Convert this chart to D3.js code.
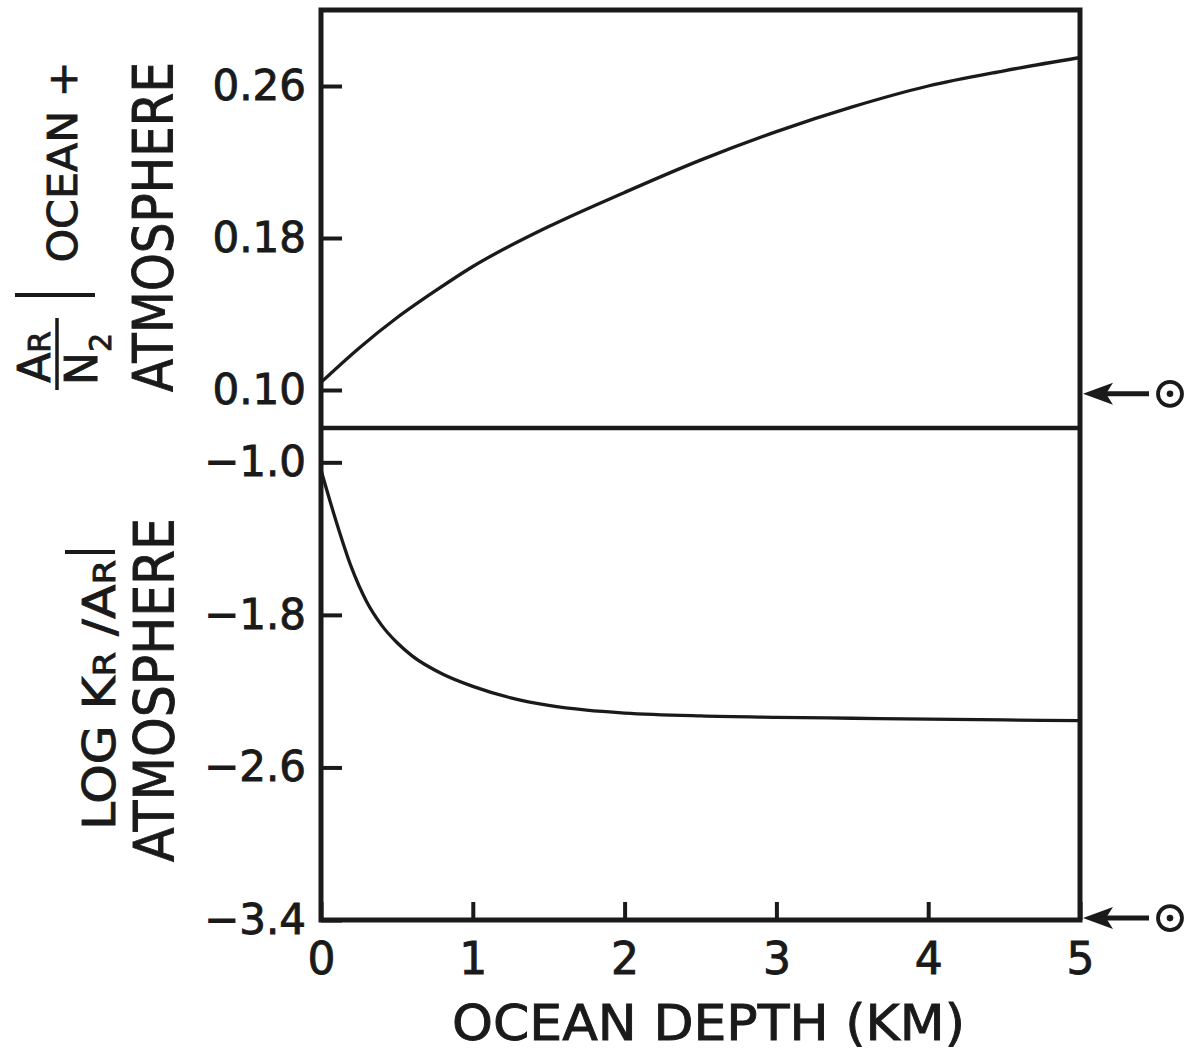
<!DOCTYPE html>
<html>
<head>
<meta charset="utf-8">
<script src="https://cdn.jsdelivr.net/npm/d3@7"></script>
<style>
  body { margin: 0; background: #fff; }
  svg { display: block; }
  text { font-family: "DejaVu Sans", sans-serif; fill: #1a1a1a; stroke: #1a1a1a; stroke-width: 0.9px; }
</style>
</head>
<body>
<svg width="1192" height="1051"></svg>
<script>
// values
const depthTicks = [0, 1, 2, 3, 4, 5];
const ratioTicks = [0.10, 0.18, 0.26];
const logTicks = [-1.0, -1.8, -2.6, -3.4];

// top panel: Ar/N2 in ocean + atmosphere vs ocean depth
const depthTop = [0, 0.25, 0.5, 0.75, 1, 1.5, 2, 2.5, 3, 3.5, 4, 4.5, 5];
const arN2 = [0.104, 0.122, 0.138, 0.152, 0.165, 0.186, 0.204, 0.221, 0.236, 0.249, 0.260, 0.268, 0.275];

// bottom panel: log Kr/Ar in atmosphere vs ocean depth
const depthBottom = [0, 0.1, 0.2, 0.3, 0.4, 0.5, 0.6, 0.8, 1.0, 1.25, 1.5, 1.75, 2.0, 2.5, 3.0, 3.5, 4.0, 4.5, 5.0];
const logKrAr = [-1.04, -1.31, -1.55, -1.73, -1.855, -1.945, -2.015, -2.11, -2.175, -2.235, -2.275, -2.30, -2.315, -2.33, -2.337, -2.342, -2.347, -2.351, -2.355];

// solar values marked by arrows on the right
const sunRatio = 0.098;
const sunLogKrAr = -3.39;

const ink = "#1a1a1a";
const xLeft = 321, xRight = 1080, yTopEdge = 10, yMid = 428, yBottom = 920;

const svg = d3.select("svg");
svg.append("rect").attr("width", 1192).attr("height", 1051).attr("fill", "#fff");

const x = d3.scaleLinear().domain([0, 5]).range([xLeft, xRight]);
const yTop = d3.scaleLinear().domain([0.08, 0.30]).range([yMid, yTopEdge]);
const yBot = d3.scaleLinear().domain([-3.4, -0.82]).range([yBottom, yMid]);

// axes (ticks point inward)
function styleAxis(g, size) {
  g.select(".domain").remove();
  g.attr("font-family", "DejaVu Sans, sans-serif").attr("font-size", size);
  g.selectAll(".tick line").attr("stroke", ink).attr("stroke-width", 4);
  g.selectAll(".tick text").attr("fill", ink);
}

svg.append("g")
    .attr("transform", `translate(${xLeft},0)`)
    .call(d3.axisLeft(yTop).tickValues(ratioTicks).tickSize(-21).tickPadding(15).tickFormat(d3.format(".2f")))
    .call(g => styleAxis(g, 42));

svg.append("g")
    .attr("transform", `translate(${xLeft},0)`)
    .call(d3.axisLeft(yBot).tickValues(logTicks).tickSize(-21).tickPadding(15).tickFormat(d3.format(".1f")))
    .call(g => styleAxis(g, 42));

svg.append("g")
    .attr("transform", `translate(0,${yBottom})`)
    .call(d3.axisBottom(x).tickValues(depthTicks).tickSize(-18).tickPadding(23).tickFormat(d3.format("d")))
    .call(g => styleAxis(g, 44));

// frame + divider
svg.append("rect")
    .attr("x", xLeft).attr("y", yTopEdge)
    .attr("width", xRight - xLeft).attr("height", yBottom - yTopEdge)
    .attr("fill", "none").attr("stroke", ink).attr("stroke-width", 5);
svg.append("line")
    .attr("x1", xLeft).attr("x2", xRight)
    .attr("y1", yMid).attr("y2", yMid)
    .attr("stroke", ink).attr("stroke-width", 4.5);

// curves
const lineTop = d3.line()
  .x((d, i) => x(depthTop[i]))
  .y(d => yTop(d))
  .curve(d3.curveMonotoneX);
const lineBot = d3.line()
  .x((d, i) => x(depthBottom[i]))
  .y(d => yBot(d))
  .curve(d3.curveMonotoneX);

svg.append("path").attr("d", lineTop(arN2))
    .attr("fill", "none").attr("stroke", ink).attr("stroke-width", 3.3);
svg.append("path").attr("d", lineBot(logKrAr))
    .attr("fill", "none").attr("stroke", ink).attr("stroke-width", 3.3);

// sun arrows
function sunArrow(yPos) {
  const g = svg.append("g").attr("transform", `translate(${xRight + 3},${yPos})`);
  g.append("line").attr("x1", 20).attr("x2", 66).attr("y1", 0).attr("y2", 0)
    .attr("stroke", ink).attr("stroke-width", 5);
  g.append("path").attr("d", "M0,0 L30,-11 L23,0 L30,11 Z").attr("fill", ink);
  g.append("circle").attr("cx", 87).attr("cy", 0).attr("r", 12)
    .attr("fill", "none").attr("stroke", ink).attr("stroke-width", 3.8);
  g.append("circle").attr("cx", 87).attr("cy", 0).attr("r", 3.3).attr("fill", ink);
}
sunArrow(yTop(sunRatio));
sunArrow(yBot(sunLogKrAr));

// y-axis titles (rotated)
function vText(xb, yc, size, len) {
  const t = svg.append("text")
    .attr("transform", `translate(${xb},${yc}) rotate(-90)`)
    .attr("text-anchor", "middle")
    .attr("font-size", size);
  if (len) t.attr("textLength", len).attr("lengthAdjust", "spacingAndGlyphs");
  return t;
}

// top: Ar/N2 | ocean + atmosphere
const num = vText(50, 357, 44);
num.append("tspan").text("A");
num.append("tspan").attr("font-size", 31).text("R");
svg.append("line").attr("x1", 57).attr("x2", 57).attr("y1", 318).attr("y2", 390)
    .attr("stroke", ink).attr("stroke-width", 3.5);
const den = vText(97, 359, 44);
den.append("tspan").text("N");
den.append("tspan").attr("font-size", 30).attr("dy", "0.45em").text("2");
svg.append("line").attr("x1", 15).attr("x2", 95).attr("y1", 295).attr("y2", 295)
    .attr("stroke", ink).attr("stroke-width", 4);
vText(77, 162, 41, 201).text("OCEAN +");
vText(172, 227, 56, 330).text("ATMOSPHERE");

// bottom: log Kr/Ar | atmosphere
const l1 = vText(115, 695, 44, 270);
l1.append("tspan").text("LOG K");
l1.append("tspan").attr("font-size", 31).text("R");
l1.append("tspan").text(" /A");
l1.append("tspan").attr("font-size", 31).text("R");
svg.append("line").attr("x1", 65).attr("x2", 115).attr("y1", 552).attr("y2", 552)
    .attr("stroke", ink).attr("stroke-width", 4);
vText(173, 690, 56, 344).text("ATMOSPHERE");

// x-axis title
svg.append("text")
    .attr("x", (xLeft + xRight) / 2 + 8)
    .attr("y", 1040)
    .attr("text-anchor", "middle")
    .attr("font-size", 50)
    .attr("textLength", 513).attr("lengthAdjust", "spacingAndGlyphs")
    .text("OCEAN DEPTH (KM)");
</script>
</body>
</html>
